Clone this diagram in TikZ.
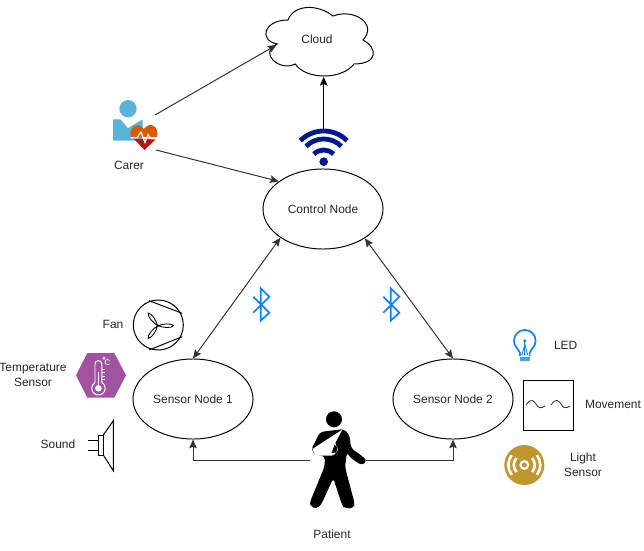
\documentclass[tikz,border=0pt]{standalone}
\usepackage{fontspec}
\setmainfont{Liberation Sans}
\usepackage{xcolor}
\usetikzlibrary{arrows.meta,positioning,shapes.geometric}
\definecolor{wifiblue}{HTML}{00188F}
\definecolor{btblue}{HTML}{0A84F0}
\definecolor{carerblue}{HTML}{59B4D9}
\definecolor{heartorange}{HTML}{DD5900}
\definecolor{heartred}{HTML}{BA141A}
\definecolor{hexpurple}{HTML}{A153A0}
\definecolor{lightgold}{HTML}{C0962E}
\tikzset{
  nodeEllipse/.style={draw=black, ellipse, minimum width=3cm, minimum height=2cm, inner sep=0pt, line width=0.7pt},
  noteLabel/.style={font=\fontsize{8.5}{10.7}\selectfont, align=center, text=black!85, inner sep=0pt},
  linkArrow/.style={-{Stealth[length=2.2mm,width=1.9mm,inset=0.4mm]}, line width=0.7pt, draw=black!80},
  dualArrow/.style={{Stealth[length=2.2mm,width=1.9mm,inset=0.4mm]}-{Stealth[length=2.2mm,width=1.9mm,inset=0.4mm]}, line width=0.7pt, draw=black!80},
  iconLine/.style={line width=0.7pt, draw=black},
  waveLine/.style={line width=3.4pt, draw=wifiblue}
}
\begin{document}
\begin{tikzpicture}[x=0.025cm,y=-0.025cm]
  \useasboundingbox (0,0) rectangle (644,551);
  % cloud
  \draw[iconLine, fill=white] (288,20) .. controls (264,20) and (258,40) .. (277.2,44)
    .. controls (258,52.8) and (279.6,72) .. (295.2,64)
    .. controls (306,80) and (342,80) .. (354,64)
    .. controls (378,64) and (378,48) .. (363,40)
    .. controls (378,24) and (354,8) .. (333,16)
    .. controls (318,4) and (294,4) .. (288,20) -- cycle;
  \node[noteLabel] (cloud) at (317,39.7) {Cloud};
  \coordinate (cloudWest) at (276.5,45);
  \coordinate (cloudSouth) at (323.7,76.8);

  \node[nodeEllipse] (controlNode) at (323,209) {};
  \node[noteLabel] at (controlNode) {Control Node};
  \node[nodeEllipse] (sensorOne) at (193,399) {};
  \node[noteLabel] at (sensorOne) {Sensor Node 1};
  \node[nodeEllipse] (sensorTwo) at (453,399) {};
  \node[noteLabel] at (sensorTwo) {Sensor Node 2};

  % carer
  \fill[carerblue] (113,119.3) -- (120.3,119.3) -- (128,128.3) -- (142.7,119.3) -- (142.7,140.7) -- (113,140.7) -- cycle;
  \fill[carerblue] (128,108.7) circle (8.7);
  \fill[heartorange] (131,137) .. controls (128,127) and (138,121) .. (144,129)
    .. controls (149,121) and (160,126) .. (156.8,137) -- cycle;
  \fill[heartred] (134,139) -- (144.5,150) -- (156,139) -- cycle;
  \draw[white, line width=0.8pt] (130.7,137.7) -- (137,137.7) -- (141,132) -- (145,142.5) -- (148,134.5) -- (151,138.7) -- (158,138.7);
  \node[noteLabel] (carer) at (129,165) {Carer};
  \coordinate (carerTop) at (155,115);
  \coordinate (carerLow) at (156,150);

  % wifi
  \fill[wifiblue] (323.7,161.7) circle (4.3);
  \foreach \wr in {14,25,33}
    \draw[waveLine] ([shift={(225:\wr)}]323.7,164) arc[start angle=225, end angle=315, radius=\wr];
  \coordinate (wifiTop) at (323.7,129);

  \draw[linkArrow] (carerTop) -- (cloudWest);
  \draw[linkArrow] (carerLow) -- (controlNode.148);
  \draw[linkArrow, draw=black] (wifiTop) -- (cloudSouth);
  \draw[dualArrow] (controlNode.214.4) -- (sensorOne.north);
  \draw[dualArrow] (controlNode.325.6) -- (sensorTwo.north);

  % bluetooth
  \foreach \bx in {260.7,390.7}
    \draw[btblue, line width=1.2pt] (\bx-7.4,296.7) -- (\bx+8.6,312.7) -- (\bx,320.7) -- (\bx,288.3) -- (\bx+8.6,296.7) -- (\bx-7.4,312.7);

  % fan
  \node[draw=black, circle, minimum size=1.25cm, inner sep=0pt, line width=0.7pt] (fan) at (158.3,325) {};
  \draw[iconLine] (149,300.7) -- (182.3,313.3);
  \draw[iconLine] (149,350) -- (182.3,336.7);
  \foreach \ba in {0,127,233}
    \draw[iconLine, fill=white, line width=0.6pt, rotate around={-\ba:(157.7,325.7)}] (157.7,325.7) .. controls (163,323.8) and (171,322.8) .. (173.5,325.7) .. controls (171,328.6) and (163,327.6) .. (157.7,325.7) -- cycle;
  \node[noteLabel] (fanLabel) at (113,324.7) {Fan};

  % temperature
  \fill[hexpurple] (76,375.3) -- (87.3,353) -- (114.3,353) -- (126,375.3) -- (114.3,397.7) -- (87.3,397.7) -- cycle;
  \draw[white, line width=0.7pt] (95,382.5) -- (95,364) arc[start angle=180, end angle=360, radius=3.4] -- (101.8,382.5) arc[start angle=-60, end angle=240, radius=6.7];
  \fill[white] (98.4,388.3) circle (3.3);
  \draw[white, line width=0.6pt] (98.4,388) -- (98.4,372);
  \foreach \ty in {369,372.5,376,379.5}
    \draw[white, line width=0.5pt] (101.8,\ty) -- (105,\ty);
  \draw[white, line width=0.4pt] (104,358.3) circle (1.2);
  \draw[white, line width=0.5pt] (109.5,360.5) arc[start angle=-40, end angle=-320, radius=2.6];
  \node[noteLabel] (tempLabel) at (33,375) {Temperature\\Sensor};

  % sound
  \draw[iconLine] (98.3,435) rectangle (103.3,455);
  \draw[iconLine] (103.3,435) -- (113.3,420.7) -- (113.3,470.7) -- (103.3,455);
  \draw[iconLine] (88.3,440) -- (98.3,440);
  \draw[iconLine] (88.3,450) -- (98.3,450);
  \node[noteLabel] (soundLabel) at (58,444.7) {Sound};

  % led
  \draw[btblue, line width=1.2pt] (520,356) -- (520,353) .. controls (518,348) and (514,346.5) .. (514,340.7)
    arc[start angle=180, end angle=360, radius=10.8] .. controls (535.6,346.5) and (531.6,348) .. (529.6,353) -- (529.6,356);
  \fill[btblue!75] (520,357) rectangle (530,361);
  \draw[btblue, line width=0.9pt] (524.8,355) -- (524.8,342);
  \draw[btblue, line width=0.6pt] (522,355) -- (524.8,344) -- (527.6,355);
  \fill[btblue] (524.8,341) circle (1.7);
  \node[noteLabel] (ledLabel) at (565.7,345) {LED};

  % movement
  \node[draw=black, minimum size=1.25cm, inner sep=0pt, line width=0.7pt] (movement) at (548.3,405.3) {};
  \foreach \wx in {526,551}
    \draw[black!80, line width=0.6pt] (\wx,405) .. controls (\wx+5,398) and (\wx+7,400) .. (\wx+10,404) .. controls (\wx+12,408) and (\wx+15,409) .. (\wx+19,406);
  \node[noteLabel] (movementLabel) at (613,404.7) {Movement};

  % light sensor
  \fill[lightgold] (524.3,465) circle (20);
  \draw[white, line width=1.5pt] (524.3,465) circle (3.8);
  \foreach \lr/\la in {10.5/42,16/38}{
    \draw[white, line width=1.9pt] ([shift={(-\la:\lr)}]524.3,465) arc[start angle=-\la, end angle=\la, radius=\lr];
    \draw[white, line width=1.9pt] ([shift={(180-\la:\lr)}]524.3,465) arc[start angle=180-\la, end angle=180+\la, radius=\lr];
  }
  \node[noteLabel] (lightLabel) at (583,465) {Light\\Sensor};

  % patient
  \fill[black] (334,419.3) circle (8);
  \fill[black, rounded corners=2.5pt] (320,432) -- (344,429) -- (349.5,435) -- (351,448.3) -- (363.5,457) -- (367,461) -- (362,465.5) -- (350,457.5) -- (347,452)
    -- (345,467) -- (354.5,503) -- (354,508) -- (345,508.5) -- (342,505) -- (333.3,478) -- (321,505) -- (316,509) -- (310,506) -- (310,502)
    -- (324.5,466.7) -- (325,456) -- (316,455) -- (311,450) -- cycle;
  \fill[white, rounded corners=1pt] (342.5,429.5) -- (311.7,449.5) -- (316.7,455.5) -- (333.3,455.5) -- (338.5,450) -- (335,443.3) -- cycle;
  \fill[black] (334.5,445) .. controls (338,446) and (338,450) .. (336,452.5) -- (331.5,453) -- cycle;
  \node[noteLabel] (patient) at (332,534.7) {Patient};
  \coordinate (patientLeft) at (310,460);
  \coordinate (patientRight) at (366,460);
  \draw[linkArrow] (patientLeft) -- (193,460) -- (sensorOne.south);
  \draw[linkArrow] (patientRight) -- (453,460) -- (sensorTwo.south);
\end{tikzpicture}
\end{document}
